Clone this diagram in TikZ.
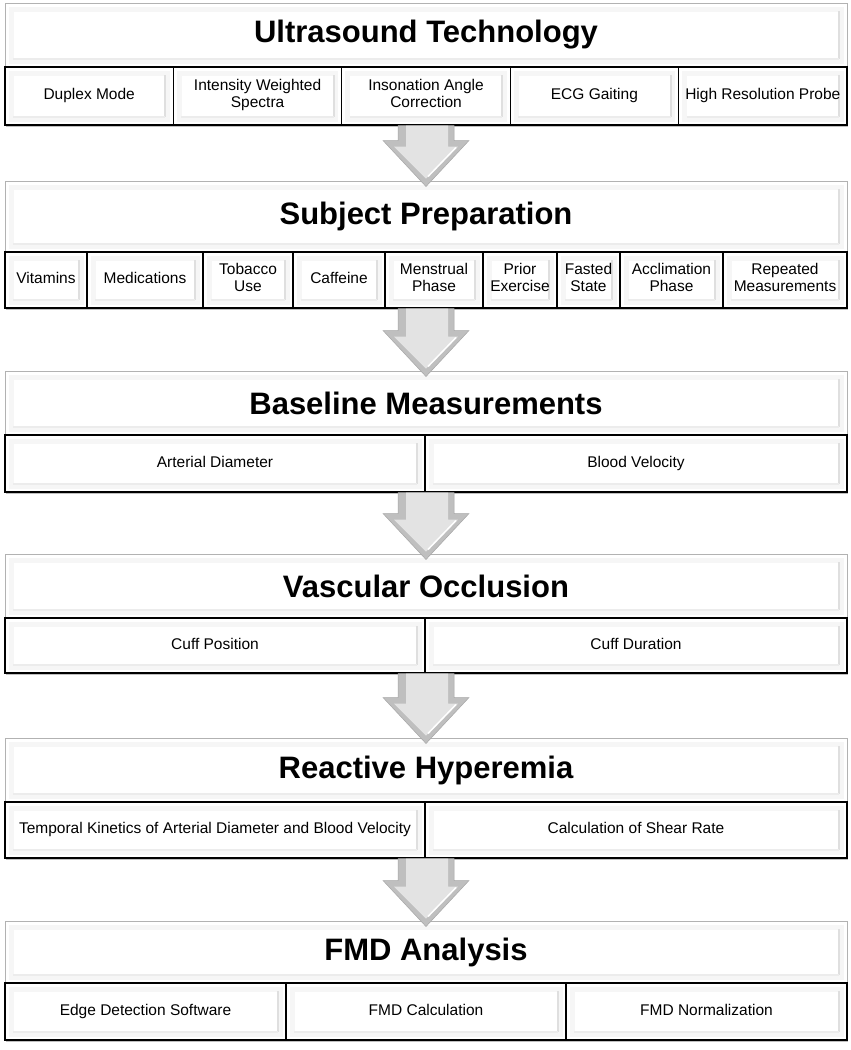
\documentclass[tikz,border=0pt]{standalone}
\usepackage{fontspec}
\setmainfont{Liberation Sans}
\usetikzlibrary{calc, shadows}

\newcommand{\flowarrow}[2]{%
  \path[flow] let \p1=(#1), \p2=(#2.north) in
    (\x1-28pt,\y1) -- (\x1+28pt,\y1) -- (\x1+28pt,\y2+40pt) -- (\x1+43pt,\y2+40pt)
    -- (\x1,\y2-6pt) -- (\x1-43pt,\y2+40pt) -- (\x1-28pt,\y2+40pt) -- cycle;
  \path[flowlight] let \p1=(#1), \p2=(#2.north) in
    (\x1-20pt,\y1) -- (\x1+22pt,\y1) -- (\x1+22pt,\y2+34pt) -- (\x1+32pt,\y2+34pt)
    -- (\x1,\y2+2pt) -- (\x1-32pt,\y2+34pt) -- (\x1-20pt,\y2+34pt) -- cycle;
  \draw[white, line width=1.5pt] let \p1=(#1), \p2=(#2.north) in
    (\x1+30pt,\y2+33pt) -- (\x1+2pt,\y2+4pt);}

\begin{document}
\begin{tikzpicture}[x=1pt, y=1pt,
    bevel/.style={path picture={
        \draw[gray!7, line width=5pt] ([shift={(6pt,-6pt)}]path picture bounding box.north west) rectangle ([shift={(-6pt,6pt)}]path picture bounding box.south east);
        \draw[gray!25, line width=2pt] ([shift={(-8pt,8pt)}]path picture bounding box.south east) -- ([shift={(-8pt,-8pt)}]path picture bounding box.north east);
        \draw[gray!15, line width=1.5pt] ([shift={(8pt,8pt)}]path picture bounding box.south west) -- ([shift={(-8pt,8pt)}]path picture bounding box.south east);}},
    head/.style={draw=gray!60, line width=1pt, fill=white, bevel, inner sep=0pt, minimum width=842pt, font=\fontsize{31}{36}\selectfont\bfseries},
    item/.style={draw=black, line width=1.3pt, fill=white, bevel, inner sep=0pt, align=center, font=\fontsize{15.5}{17.5}\selectfont,
        execute at begin node=\strut, execute at end node=\strut,
        drop shadow={shadow xshift=1pt, shadow yshift=-2pt, opacity=0.25, fill=black}},
    flow/.style={draw=gray!70, line width=0.5pt, fill=gray!50},
    flowlight/.style={fill=gray!22}]

  \useasboundingbox[fill=white] (0,0) rectangle (851,-1050);

  % ultrasound technology
  \node[head, minimum height=64pt]                      (h1)  at (426,-35)    {Ultrasound Technology};
  \node[item, minimum width=168.4pt, minimum height=58pt] (r1a) at (89.2,-96)   {Duplex Mode};
  \node[item, minimum width=168.4pt, minimum height=58pt] (r1b) at (257.6,-96)  {Intensity Weighted \\ Spectra};
  \node[item, minimum width=168.4pt, minimum height=58pt] (r1c) at (426,-96)    {Insonation Angle \\ Correction};
  \node[item, minimum width=168.4pt, minimum height=58pt] (r1d) at (594.4,-96)  {ECG Gaiting};
  \node[item, minimum width=168.4pt, minimum height=58pt] (r1e) at (762.8,-96)  {High Resolution Probe};

  % subject preparation
  \node[head, minimum height=71pt]                    (h2)  at (426,-216.5) {Subject Preparation};
  \node[item, minimum width=82pt,  minimum height=56pt] (r2a) at (46,-280)    {Vitamins};
  \node[item, minimum width=116pt, minimum height=56pt] (r2b) at (145,-280)   {Medications};
  \node[item, minimum width=90pt,  minimum height=56pt] (r2c) at (248,-280)   {Tobacco \\ Use};
  \node[item, minimum width=92pt,  minimum height=56pt] (r2d) at (339,-280)   {Caffeine};
  \node[item, minimum width=98pt,  minimum height=56pt] (r2e) at (434,-280)   {Menstrual \\ Phase};
  \node[item, minimum width=74pt,  minimum height=56pt] (r2f) at (520,-280)   {Prior \\ Exercise};
  \node[item, minimum width=63pt,  minimum height=56pt] (r2g) at (588.5,-280) {Fasted \\ State};
  \node[item, minimum width=103pt, minimum height=56pt] (r2h) at (671.5,-280) {Acclimation \\ Phase};
  \node[item, minimum width=124pt, minimum height=56pt] (r2i) at (785,-280)   {Repeated \\ Measurements};

  % baseline measurements
  \node[head, minimum height=64pt]                    (h3)  at (426,-403)   {Baseline Measurements};
  \node[item, minimum width=420pt, minimum height=57pt] (r3a) at (215,-463.5) {Arterial Diameter};
  \node[item, minimum width=422pt, minimum height=57pt] (r3b) at (636,-463.5) {Blood Velocity};

  % vascular occlusion
  \node[head, minimum height=64pt]                    (h4)  at (426,-586)   {Vascular Occlusion};
  \node[item, minimum width=420pt, minimum height=55pt] (r4a) at (215,-645.5) {Cuff Position};
  \node[item, minimum width=422pt, minimum height=55pt] (r4b) at (636,-645.5) {Cuff Duration};

  % reactive hyperemia
  \node[head, minimum height=64pt]                    (h5)  at (426,-770)   {Reactive Hyperemia};
  \node[item, minimum width=420pt, minimum height=56pt] (r5a) at (215,-830)   {Temporal Kinetics of Arterial Diameter and Blood Velocity};
  \node[item, minimum width=422pt, minimum height=56pt] (r5b) at (636,-830)   {Calculation of Shear Rate};

  % fmd analysis
  \node[head, minimum height=62pt]                    (h6)  at (426,-952)   {FMD Analysis};
  \node[item, minimum width=281pt, minimum height=57pt] (r6a) at (145.5,-1011.5) {Edge Detection Software};
  \node[item, minimum width=280pt, minimum height=57pt] (r6b) at (426,-1011.5)   {FMD Calculation};
  \node[item, minimum width=281pt, minimum height=57pt] (r6c) at (706.5,-1011.5) {FMD Normalization};

  \flowarrow{h1 |- r1c.south}{h2}
  \flowarrow{h2 |- r2e.south}{h3}
  \flowarrow{h3 |- r3a.south}{h4}
  \flowarrow{h4 |- r4a.south}{h5}
  \flowarrow{h5 |- r5a.south}{h6}
\end{tikzpicture}
\end{document}
